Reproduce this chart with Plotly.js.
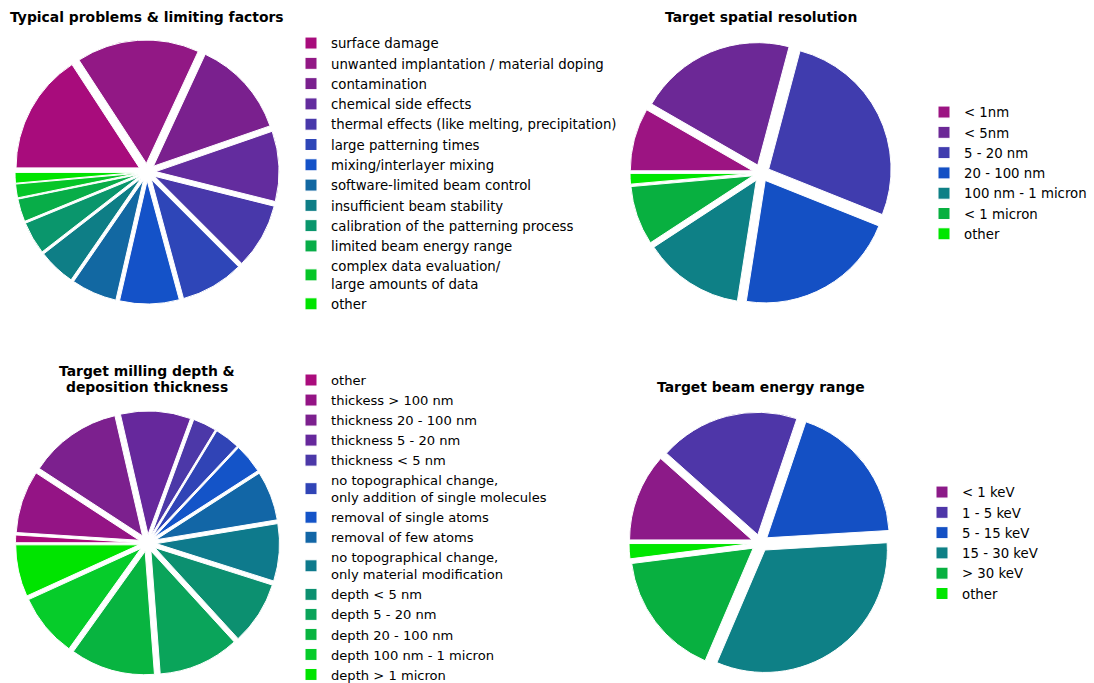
<!DOCTYPE html>
<html>
<head>
<meta charset="utf-8">
<script src="https://cdn.plot.ly/plotly-3.0.1.min.js"></script>
<style>html,body{margin:0;padding:0;background:#fff}#chart{width:1094px;height:683px}</style>
</head>
<body>
<div id="chart"></div>
<script>
// ---- Data ----
var problemLabels = ['surface damage','unwanted implantation / material doping','contamination','chemical side effects','thermal effects (like melting, precipitation)','large patterning times','mixing/interlayer mixing','software-limited beam control','insufficient beam stability','calibration of the patterning process','limited beam energy range','complex data evaluation/<br>large amounts of data','other'];
var problemValues = [15.8, 16.1, 12.8, 9.2, 8.6, 8.3, 7.8, 6.0, 4.9, 4.3, 3.0, 1.8, 1.4];
var problemColors = ['#a80c7c','#921885','#7a208e','#632c9e','#4838aa','#2e46b8','#1452c8','#1268a2','#0e7e86','#0a966c','#08ad48','#06c628','#00e400'];

var resolutionLabels = ['< 1nm','< 5nm','5 - 20 nm','20 - 100 nm','100 nm - 1 micron','< 1 micron','other'];
var resolutionValues = [8.3, 20.8, 26.9, 21.4, 13.3, 7.8, 1.4];
var resolutionColors = ['#9c1482','#6c2896','#403cae','#1450c4','#0e8086','#08b040','#00e600'];

var depthLabels = ['other','thickess > 100 nm','thickness 20 - 100 nm','thickness 5 - 20 nm','thickness < 5 nm','no topographical change,<br>only addition of single molecules','removal of single atoms','removal of few atoms','no topographical change,<br>only material modification','depth < 5 nm','depth 5 - 20 nm','depth 20 - 100 nm','depth 100 nm - 1 micron','depth > 1 micron'];
var depthValues = [1.0, 8.2, 12.2, 9.2, 3.1, 3.3, 3.9, 6.5, 7.5, 8.3, 10.6, 11.1, 8.3, 6.8];
var depthColors = ['#aa0c7c','#941485','#7c208e','#66289c','#4c38a8','#3044b6','#1454c8','#1266a6','#0e7a8c','#0c9070','#0aa45a','#08b440','#06cc2a','#00e400'];

var energyLabels = ['< 1 keV','1 - 5 keV','5 - 15 keV','15 - 30 keV','> 30 keV','other'];
var energyValues = [11.6, 18.6, 18.9, 32.4, 16.6, 2.0];
var energyColors = ['#8c1a88','#4e36a8','#1450c4','#0e8086','#08b040','#00e600'];

var titles = ['Typical problems & limiting factors','Target spatial resolution','Target milling depth &<br>deposition thickness','Target beam energy range'];

// ---- Layout helpers ----
var W = 1094, H = 683;
function px2x(p){ return p / W; }
function px2y(p){ return 1 - p / H; }
var FONT = 'DejaVu Sans, Verdana, sans-serif';

// Pie legend entries are keyed by label across all pies; a per-chart invisible
// suffix keeps the shared label "other" distinct in every legend.
function pie(labels, values, colors, dom, legendId, idx){
  var suffix = new Array(idx + 1).join('\u200b');
  return {
    type: 'pie', labels: labels.map(function(l){ return l + suffix; }), values: values, sort: false,
    direction: 'clockwise', rotation: 270,
    pull: labels.map(function(){ return 0.07; }),
    marker: {colors: colors, line: {color: '#ffffff', width: 1}},
    textinfo: 'none', hoverinfo: 'label+percent',
    domain: {x: [px2x(dom[0]), px2x(dom[1])], y: [px2y(dom[3]), px2y(dom[2])]},
    legend: legendId, showlegend: true
  };
}

var data = [
  pie(problemLabels, problemValues, problemColors, [15, 279, 40, 304], 'legend', 0),
  pie(resolutionLabels, resolutionValues, resolutionColors, [630, 892, 42, 304], 'legend2', 1),
  pie(depthLabels, depthValues, depthColors, [15.5, 279.5, 411, 675], 'legend3', 2),
  pie(energyLabels, energyValues, energyColors, [629, 891, 412, 674], 'legend4', 3)
];

function leg(xp, yp, fs){
  return {x: px2x(xp), y: px2y(yp), xref: 'container', yref: 'container',
    xanchor: 'left', yanchor: 'top', maxheight: 800,
    font: {family: FONT, size: fs, color: '#000'}, bgcolor: 'rgba(0,0,0,0)',
    borderwidth: 0, traceorder: 'normal', orientation: 'v'};
}

// Title annotations (one annotation per text line, matplotlib-like line spacing)
var titlePos = [[147, 17], [761, 17], [147, 379], [761, 387]];
var annotations = [];
titles.forEach(function(t, i){
  var lines = t.split('<br>');
  var lh = 16;
  lines.forEach(function(line, j){
    var yc = titlePos[i][1] + (j - (lines.length - 1) / 2) * lh;
    annotations.push({text: '<b>' + line + '</b>', x: px2x(titlePos[i][0]), y: px2y(yc),
      xref: 'paper', yref: 'paper', xanchor: 'center', yanchor: 'middle', showarrow: false,
      font: {family: FONT, size: 13.9, color: '#000'}});
  });
});

var layout = {
  width: W, height: H,
  margin: {l: 0, r: 0, t: 0, b: 0, autoexpand: false},
  paper_bgcolor: '#fff', plot_bgcolor: '#fff',
  font: {family: FONT, color: '#000'},
  showlegend: true,
  legend: leg(291, 27.9, 13.3),
  legend2: leg(924, 96.9, 13.3),
  legend3: leg(291, 365, 13.1),
  legend4: leg(922, 476.9, 13.3),
  annotations: annotations
};

Plotly.newPlot('chart', data, layout, {staticPlot: true, displayModeBar: false});
</script>
</body>
</html>
